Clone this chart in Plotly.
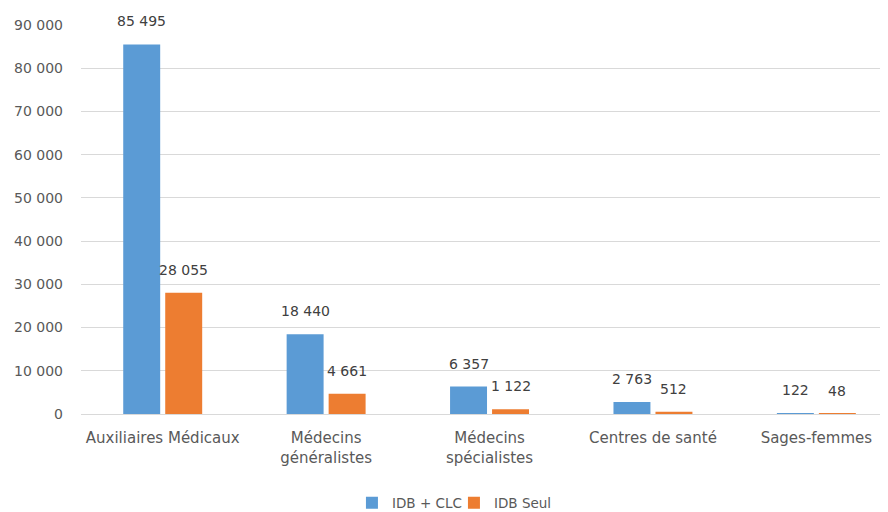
import plotly.graph_objects as go

categories = ["Auxiliaires Médicaux", "Médecins<br>généralistes", "Médecins<br>spécialistes", "Centres de santé", "Sages-femmes"]
idb_clc = [85495, 18440, 6357, 2763, 122]
idb_seul = [28055, 4661, 1122, 512, 48]
y_ticks = [0, 10000, 20000, 30000, 40000, 50000, 60000, 70000, 80000, 90000]

font_family = "DejaVu Sans, sans-serif"
# page body has an 8px margin, so the figure is sized to fit the window
W, H = 880, 504
ML, MR, MT, MB = 73, 3, 17, 98
x_range = [-0.5, 4.42]
bargap, bargroupgap = 0.486, 0.12

fig = go.Figure()
series = [("IDB + CLC", idb_clc, "#5B9BD5"), ("IDB Seul", idb_seul, "#ED7D31")]
for name, vals, col in series:
    fig.add_trace(go.Bar(x=categories, y=vals, name=name,
                         marker=dict(color=col, line=dict(width=0))))

# data labels placed above each bar (pixel offset computed from layout)
cat_px = (W - ML - MR) / (x_range[1] - x_range[0])
slot_px = cat_px * (1 - bargap) / len(series)
def fmt(v):
    return f"{v:,}".replace(",", " ")
for i, (name, vals, col) in enumerate(series):
    shift = (i - (len(series) - 1) / 2) * slot_px
    for c, v in zip(categories, vals):
        fig.add_annotation(x=c, y=v, text=fmt(v), showarrow=False,
                           xanchor="center", yanchor="bottom", xshift=shift, yshift=13,
                           font=dict(size=14, color="#404040", family=font_family))

fig.update_layout(
    width=W, height=H,
    margin=dict(l=ML, r=MR, t=MT, b=MB, autoexpand=False),
    paper_bgcolor="white", plot_bgcolor="white",
    separators=", ",
    barmode="group", bargap=bargap, bargroupgap=bargroupgap,
    font=dict(family=font_family, size=14, color="#595959"),
    showlegend=True,
    legend=dict(orientation="h", x=0.337, xanchor="left", y=-0.229, yanchor="middle",
                entrywidth=57, entrywidthmode="pixels",
                font=dict(size=13.5, color="#595959"), traceorder="normal"),
    xaxis=dict(range=x_range, showgrid=False, showline=False, ticks="", automargin=False,
               ticklabelstandoff=13, tickfont=dict(size=15, color="#595959")),
    yaxis=dict(range=[0, 90000], tickvals=y_ticks, tickformat=",d", automargin=False,
               showgrid=True, gridcolor="#D9D9D9", gridwidth=1,
               zeroline=True, zerolinecolor="#D9D9D9", zerolinewidth=1,
               showline=False, ticks="", ticklabelstandoff=17,
               tickfont=dict(size=14, color="#595959")),
)

fig.write_html("out.html")
